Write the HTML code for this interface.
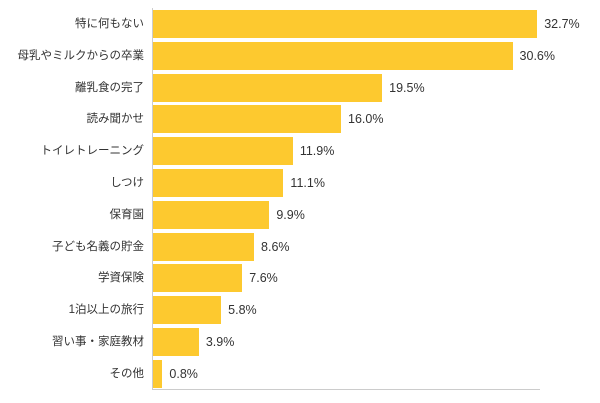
<html><head><style>
body{margin:0;width:600px;height:403px;background:#fff;font-family:"Liberation Sans","Noto Sans CJK JP",sans-serif;position:relative;overflow:hidden}
.l{position:absolute;right:456px;font-size:11.5px;color:#333;white-space:nowrap;line-height:28px}
.b{position:absolute;left:153px;height:28px;background:#fdc92f}
.v{position:absolute;font-size:12.5px;color:#333;line-height:28px}
</style></head><body>
<div style="position:absolute;left:152px;top:8px;width:1px;height:382px;background:#ccc"></div>
<div style="position:absolute;left:152px;top:389px;width:388px;height:1px;background:#ccc"></div>
<div id="c"></div>
<script>
var d=[["特に何もない",32.7],["母乳やミルクからの卒業",30.6],["離乳食の完了",19.5],["読み聞かせ",16.0],["トイレトレーニング",11.9],["しつけ",11.1],["保育園",9.9],["子ども名義の貯金",8.6],["学資保険",7.6],["1泊以上の旅行",5.8],["習い事・家庭教材",3.9],["その他",0.8]];
var h="";d.forEach(function(r,i){var y=10+i*31.8,w=r[1]*11.75;
h+='<div class="l" style="top:'+y+'px">'+r[0]+'</div><div class="b" style="top:'+y+'px;width:'+w+'px"></div><div class="v" style="top:'+y+'px;left:'+(153+w+7)+'px">'+r[1].toFixed(1)+'%</div>';});
document.getElementById("c").innerHTML=h;
</script>
</body></html>
